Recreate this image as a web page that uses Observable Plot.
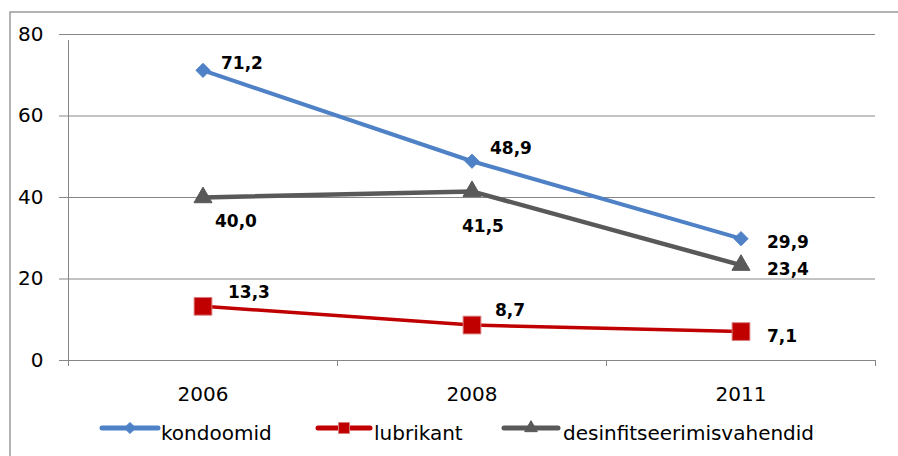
<!DOCTYPE html>
<html>
<head>
<meta charset="utf-8">
<script src="https://cdn.jsdelivr.net/npm/d3@7"></script>
<script src="https://cdn.jsdelivr.net/npm/@observablehq/plot@0.6"></script>
<style>
  html, body { margin: 0; padding: 0; background: #fff; }
  #chart svg { display: block; }
</style>
</head>
<body>
<div id="chart"></div>
<script>
// ---- data ----
const years = ["2006", "2008", "2011"];
const seriesNames = ["kondoomid", "lubrikant", "desinfitseerimisvahendid"];
const kondoomid = [71.2, 48.9, 29.9];
const lubrikant = [13.3, 8.7, 7.1];
const desinfitseerimisvahendid = [40.0, 41.5, 23.4];
const yTicks = [0, 20, 40, 60, 80];

// ---- styles ----
const colors = { kondoomid: "#4f81c6", lubrikant: "#c00000", desinfitseerimisvahendid: "#595959" };
const lineWidths = { kondoomid: 4, lubrikant: 3.5, desinfitseerimisvahendid: 4.5 };
const symbols = { kondoomid: "diamond2", lubrikant: "square", desinfitseerimisvahendid: "triangle" };
const radii = { kondoomid: 6.4, lubrikant: 10, desinfitseerimisvahendid: 6.7 };
const markerStroke = { kondoomid: "#4f81c6", lubrikant: "#d97a7a", desinfitseerimisvahendid: "#595959" };
// label offsets (dx, dy) relative to each point
const labelOffsets = {
  kondoomid: [[18, -7], [18, -13], [26, 4]],
  lubrikant: [[25, -14], [23, -14.5], [26, 5]],
  desinfitseerimisvahendid: [[12, 24.5], [-10, 35], [26, 4]]
};

const values = { kondoomid, lubrikant, desinfitseerimisvahendid };
const rows = seriesNames.flatMap(s => years.map((yr, i) => ({ series: s, year: yr, pos: i + 0.5, value: values[s][i] })));
const fmt = v => d3.format(".1f")(v).replace(".", ",");

const marks = [
  Plot.ruleY(yTicks, { stroke: "#868686", strokeWidth: 1, strokeOpacity: 1 }),
  Plot.axisY(yTicks, { tickSize: 9, tickPadding: 16, stroke: "#868686", strokeOpacity: 1, fill: "#000", fontSize: 20, label: null, tickFormat: d => String(d) }),
  Plot.ruleX([0], { y1: 0, y2: 80, stroke: "#868686", strokeWidth: 1, insetBottom: -6 }),
  Plot.axisX([0, 1, 2, 3], { tickSize: 6, stroke: "#868686", strokeOpacity: 1, tickFormat: () => "", label: null }),
  Plot.axisX([0.5, 1.5, 2.5], { tickSize: 0, tickPadding: 26, fill: "#000", fontSize: 20, label: null, tickFormat: d => years[Math.floor(d)] })
];

for (const s of seriesNames) {
  const data = rows.filter(d => d.series === s);
  marks.push(Plot.line(data, { x: "pos", y: "value", stroke: colors[s], strokeWidth: lineWidths[s], strokeLinejoin: "round" }));
  marks.push(Plot.dot(data, { x: "pos", y: "value", symbol: symbols[s], r: radii[s], fill: colors[s], stroke: markerStroke[s], strokeWidth: 1 }));
}
for (const s of seriesNames) {
  rows.filter(d => d.series === s).forEach((d, i) => {
    const [dx, dy] = labelOffsets[s][i];
    marks.push(Plot.text([d], { x: "pos", y: "value", text: d => fmt(d.value), dx, dy, textAnchor: "start", lineAnchor: "middle", fontWeight: "bold", fontSize: 17, fill: "#000" }));
  });
}

const chart = Plot.plot({
  width: 898,
  height: 456,
  marginLeft: 68,
  marginRight: 23,
  marginTop: 34,
  marginBottom: 96,
  style: { fontFamily: "DejaVu Sans", background: "#fff", color: "#000", overflow: "visible" },
  x: { domain: [0, 3], axis: null },
  y: { domain: [0, 80], axis: null },
  marks
});

// outer chart border (top and left visible)
const svg = d3.select(chart);
svg.insert("rect", ":first-child")
  .attr("x", 10).attr("y", 12).attr("width", 900).attr("height", 460)
  .attr("fill", "none").attr("stroke", "#8c8c8c").attr("stroke-width", 1.3);

// legend
const legendItems = [
  { name: "kondoomid", x0: 102, x1: 158, tx: 161 },
  { name: "lubrikant", x0: 318, x1: 370, tx: 374 },
  { name: "desinfitseerimisvahendid", x0: 504, x1: 558, tx: 563 }
];
const legendSymbols = { kondoomid: d3.symbolDiamond2, lubrikant: d3.symbolSquare, desinfitseerimisvahendid: d3.symbolTriangle };
const legendSizes = { kondoomid: 80, lubrikant: 120, desinfitseerimisvahendid: 70 };
const lg = svg.append("g").attr("font-family", "DejaVu Sans").attr("font-size", 20).attr("text-anchor", "start");
for (const it of legendItems) {
  const s = it.name;
  lg.append("line").attr("x1", it.x0).attr("x2", it.x1).attr("y1", 428).attr("y2", 428)
    .attr("stroke", colors[s]).attr("stroke-width", 5).attr("stroke-linecap", "round");
  lg.append("path").attr("d", d3.symbol(legendSymbols[s], legendSizes[s])())
    .attr("transform", `translate(${(it.x0 + it.x1) / 2},428)`)
    .attr("fill", colors[s]).attr("stroke", markerStroke[s]).attr("stroke-width", 1);
  lg.append("text").attr("x", it.tx).attr("y", 440).attr("text-anchor", "start").attr("fill", "#000").text(s);
}

document.getElementById("chart").appendChild(chart);
</script>
</body>
</html>
